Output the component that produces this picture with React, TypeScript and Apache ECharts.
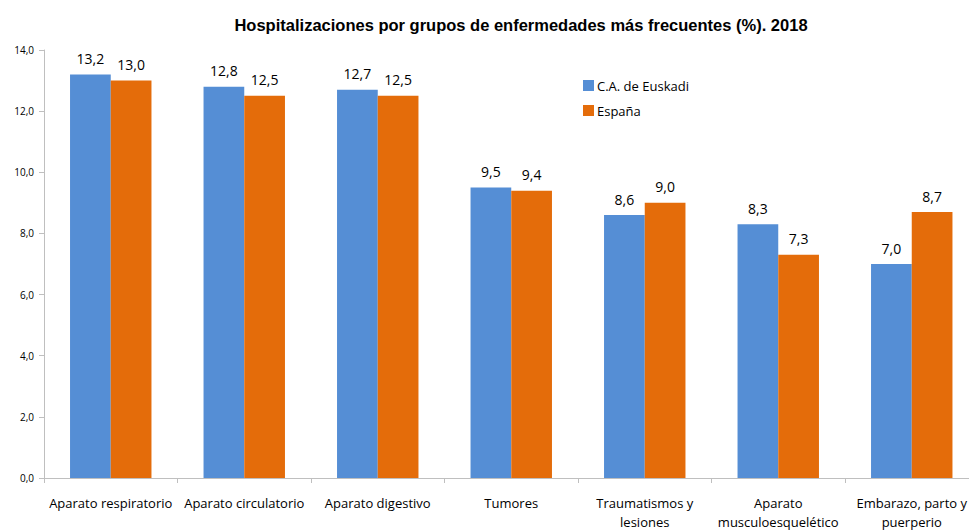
import React, { useEffect, useRef } from "react";
import * as echarts from "echarts";

const categories = [
  "Aparato respiratorio",
  "Aparato circulatorio",
  "Aparato digestivo",
  "Tumores",
  "Traumatismos y\nlesiones",
  "Aparato\nmusculoesquelético",
  "Embarazo, parto y\npuerperio",
];
const euskadi = [13.2, 12.8, 12.7, 9.5, 8.6, 8.3, 7.0];
const espana = [13.0, 12.5, 12.5, 9.4, 9.0, 7.3, 8.7];
const seriesNames = ["C.A. de Euskadi", "España"];
const titleText = "Hospitalizaciones por grupos de enfermedades más frecuentes (%). 2018";

const fmt = (v: number) => v.toFixed(1).replace(".", ",");

export default function App() {
  const ref = useRef<HTMLDivElement>(null);
  useEffect(() => {
    if (!ref.current) return;
    const chart = echarts.init(ref.current, undefined, { renderer: "svg" });
    const labelFont = "Open Sans, Liberation Sans, sans-serif";
    const barLabel = {
      show: true,
      position: "top" as const,
      distance: 9,
      fontSize: 14,
      color: "#000",
      fontFamily: labelFont,
      formatter: (p: any) => fmt(p.value),
    };
    chart.setOption({
      animation: false,
      backgroundColor: "#fff",
      title: {
        text: titleText,
        left: 516,
        textAlign: "center",
        top: 11,
        textStyle: {
          fontFamily: "Liberation Sans Narrow, Arial Narrow, Liberation Sans, sans-serif",
          fontWeight: "bold",
          fontSize: 16.5,
          color: "#000",
        },
      },
      legend: {
        orient: "vertical",
        left: 583,
        top: 79,
        padding: 0,
        itemWidth: 11,
        itemHeight: 11,
        itemGap: 12,
        icon: "rect",
        data: seriesNames,
        textStyle: { fontSize: 13, color: "#000", fontFamily: labelFont, padding: [0, 0, 0, -2] },
      },
      grid: { left: 44, right: 1.5, top: 50, bottom: 44.3, containLabel: false },
      xAxis: {
        type: "category",
        data: categories,
        axisLine: { show: true, lineStyle: { color: "#bfbfbf", width: 1 } },
        axisTick: { show: true, length: 5, lineStyle: { color: "#bfbfbf" } },
        axisLabel: {
          interval: 0,
          fontSize: 13,
          lineHeight: 19,
          margin: 15,
          color: "#000",
          fontFamily: labelFont,
        },
      },
      yAxis: {
        type: "value",
        min: 0,
        max: 14,
        interval: 2,
        axisLine: { show: true, lineStyle: { color: "#bfbfbf", width: 1 } },
        axisTick: { show: true, length: 5, lineStyle: { color: "#bfbfbf" } },
        splitLine: { show: false },
        axisLabel: {
          fontSize: 10,
          color: "#000",
          margin: 10,
          fontFamily: labelFont,
          formatter: (v: number) => fmt(v),
        },
      },
      series: [
        {
          name: seriesNames[0],
          type: "bar",
          data: euskadi,
          itemStyle: { color: "#558ED5" },
          barGap: "0%",
          barCategoryGap: "39%",
          label: barLabel,
        },
        {
          name: seriesNames[1],
          type: "bar",
          data: espana,
          itemStyle: { color: "#E46C0A" },
          barGap: "0%",
          barCategoryGap: "39%",
          label: barLabel,
        },
      ],
    });
    return () => chart.dispose();
  }, []);
  return (
    <div
      style={{ position: "fixed", left: 0, top: 0, width: 969, height: 531, overflow: "hidden", background: "#fff" }}
    >
      <div ref={ref} style={{ width: 980, height: 531 }} />
    </div>
  );
}
